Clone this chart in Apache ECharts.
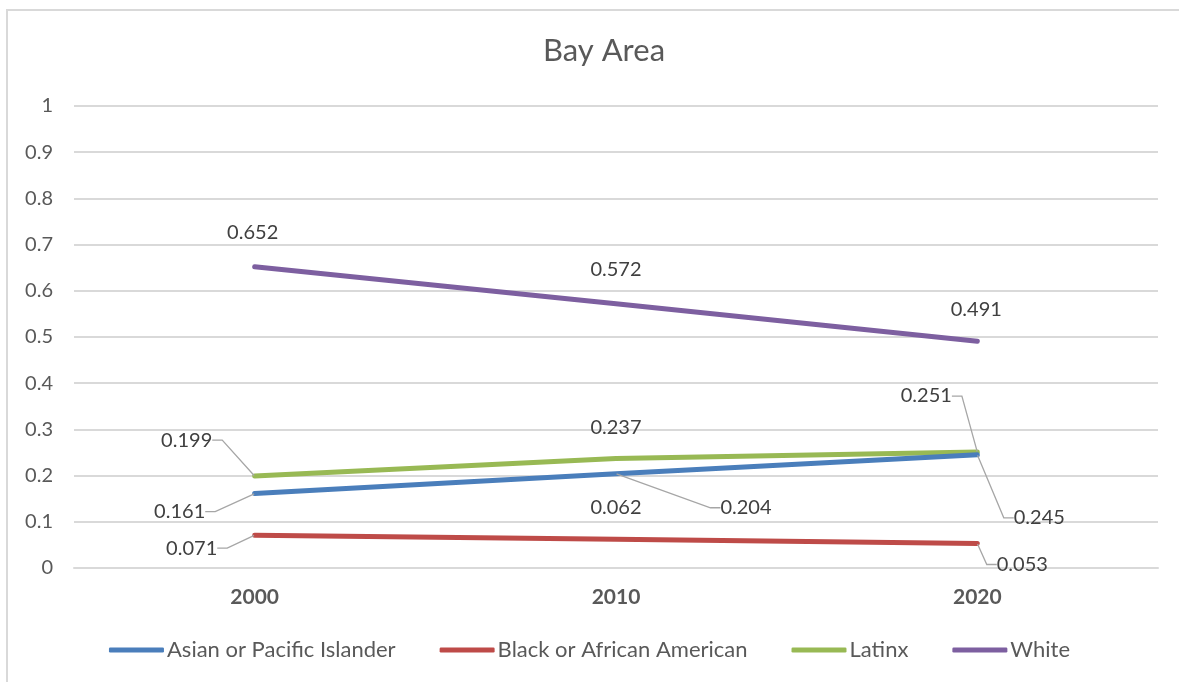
<!DOCTYPE html>
<html>
<head>
<meta charset="utf-8">
<script src="https://cdn.jsdelivr.net/npm/echarts@6/dist/echarts.min.js"></script>
<style>
  html, body { margin: 0; padding: 0; background: #ffffff; }
  #wrap { position: relative; width: 1179px; height: 682px; overflow: hidden; }
  #frame { position: absolute; left: 6px; top: 9px; width: 1200px; height: 700px; border: 2px solid #d9d9d9; box-sizing: border-box; }
  #chart { position: absolute; left: 0; top: 0; width: 1179px; height: 682px; }
</style>
</head>
<body>
<div id="wrap">
  <div id="frame"></div>
  <div id="chart"></div>
</div>
<script>
// ---- data ----
const title = 'Bay Area';
const years = ['2000', '2010', '2020'];
const seriesNames = ['Asian or Pacific Islander', 'Black or African American', 'Latinx', 'White'];
const asian = [0.161, 0.204, 0.245];
const black = [0.071, 0.062, 0.053];
const latinx = [0.199, 0.237, 0.251];
const white = [0.652, 0.572, 0.491];
const yTicks = ['0', '0.1', '0.2', '0.3', '0.4', '0.5', '0.6', '0.7', '0.8', '0.9', '1'];

// ---- styling / label layout (not data) ----
const colors = ['#4a7ebb', '#be4b48', '#98b954', '#7d5fa0'];
// label offsets from point (dx, dy) and whether a leader line is shown
const labelOffsets = [
  [[-75, 18, true], [130, 34, true], [62, 63, true]],
  [[-63, 13, true], [0, -32, false], [45, 21, true]],
  [[-68, -36, true], [0, -31, false], [-51, -56, true]],
  [[-2, -34, false], [0, -34, false], [-1, -32, false]]
];
const allValues = [asian, black, latinx, white];
const font = 'Lato, "Open Sans", sans-serif';

const chart = echarts.init(document.getElementById('chart'), null, { renderer: 'canvas' });

const series = seriesNames.map((name, si) => ({
  name: name,
  type: 'line',
  data: allValues[si].map((v, di) => ({
    value: v,
    labelLine: { show: labelOffsets[si][di][2] }
  })),
  symbol: 'circle',
  symbolSize: 1,
  showSymbol: true,
  itemStyle: { color: colors[si] },
  lineStyle: { color: colors[si], width: 5, cap: 'round', join: 'round' },
  z: 10 - si,
  label: {
    show: true,
    position: 'inside',
    color: '#404040',
    fontSize: 20,
    fontFamily: font,
    formatter: p => String(p.value)
  },
  labelLine: {
    show: true,
    length2: 10,
    lineStyle: { color: '#a6a6a6', width: 1.3 }
  },
  labelLayout: function (params) {
    const o = labelOffsets[params.seriesIndex][params.dataIndex];
    return { dx: o[0], dy: o[1] };
  },
  emphasis: { disabled: true },
  animation: false
}));

chart.setOption({
  animation: false,
  backgroundColor: 'transparent',
  title: {
    text: title,
    left: 599,
    textAlign: 'center',
    top: 30,
    textStyle: { color: '#595959', fontSize: 31, fontWeight: 'normal', fontFamily: font }
  },
  grid: { left: 74, right: 21, top: 106, bottom: 114, containLabel: false },
  xAxis: {
    type: 'category',
    data: years,
    boundaryGap: true,
    axisLine: { show: true, lineStyle: { color: '#d9d9d9', width: 2 } },
    axisTick: { show: false },
    axisLabel: {
      color: '#595959', fontSize: 21, fontWeight: 'bold', fontFamily: font, margin: 19
    }
  },
  yAxis: {
    type: 'value',
    min: 0, max: 1, interval: 0.1,
    axisLine: { show: false },
    axisTick: { show: false },
    splitLine: { lineStyle: { color: '#d9d9d9', width: 2 } },
    axisLabel: {
      color: '#595959', fontSize: 20, fontFamily: font, margin: 21,
      formatter: (v) => yTicks[Math.round(v * 10)]
    }
  },
  legend: {
    data: seriesNames,
    bottom: 16,
    left: 'center',
    itemGap: 44,
    itemWidth: 55,
    itemHeight: 5,
    icon: 'roundRect',
    textStyle: { color: '#595959', fontSize: 22, fontFamily: font, padding: [0, 0, 0, -2] }
  },
  series: series
});
</script>
</body>
</html>
